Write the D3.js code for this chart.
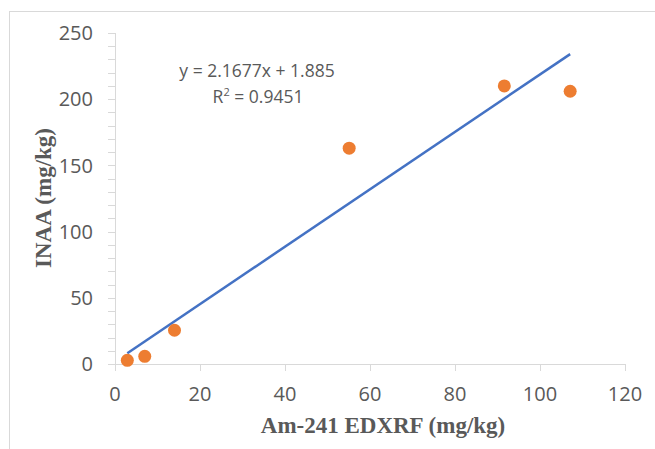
<!DOCTYPE html>
<html>
<head>
<meta charset="utf-8">
<script src="https://cdn.jsdelivr.net/npm/d3@7.9.0/dist/d3.min.js"></script>
<style>
  body { margin: 0; background: #fff; }
  svg { display: block; }
</style>
</head>
<body>
<div id="vis"></div>
<script>
const width = 655, height = 449;

// EDXRF vs INAA values
const edxrf = [2.9, 7.0, 14.0, 55.1, 91.6, 107.1];
const inaa = [2.8, 5.8, 25.5, 163, 210, 206];

// trendline as printed on the chart
const slope = 2.1677, intercept = 1.885;
const eqLabel = "y = 2.1677x + 1.885";
const r2Label = "0.9451";

const xTicks = [0, 20, 40, 60, 80, 100, 120];
const yTicks = [0, 50, 100, 150, 200, 250];
const yMinor = d3.range(0, 251, 10);

const gray = "#595959", axisCol = "#d9d9d9";
const tickFont = "'Open Sans', sans-serif";
const titleFont = "'Liberation Serif', 'Times New Roman', serif";

const svg = d3.select("#vis").append("svg")
    .attr("width", width)
    .attr("height", height);

svg.append("rect")
    .attr("x", 9.5).attr("y", 11.5)
    .attr("width", 700).attr("height", 500)
    .attr("fill", "#fff")
    .attr("stroke", axisCol);

const x = d3.scaleLinear().domain([0, 120]).range([115, 625]);
const y = d3.scaleLinear().domain([0, 250]).range([364, 33]);

// y axis: line, minor ticks every 10, labels every 50
svg.append("line")
    .attr("x1", x(0) + 0.5).attr("x2", x(0) + 0.5)
    .attr("y1", y(250)).attr("y2", y(0))
    .attr("stroke", axisCol);

svg.append("g").selectAll("line")
  .data(yMinor)
  .enter().append("line")
    .attr("x1", x(0) - 7).attr("x2", x(0))
    .attr("y1", d => Math.round(y(d)) + 0.5)
    .attr("y2", d => Math.round(y(d)) + 0.5)
    .attr("stroke", axisCol);

svg.append("g").selectAll("text")
  .data(yTicks)
  .enter().append("text")
    .attr("x", 93)
    .attr("y", d => y(d))
    .attr("dy", "0.36em")
    .attr("text-anchor", "end")
    .attr("fill", gray)
    .style("font-family", tickFont)
    .style("font-size", "20px")
    .text(d => d);

// x axis
svg.append("line")
    .attr("x1", x(0)).attr("x2", x(120))
    .attr("y1", y(0) + 0.5).attr("y2", y(0) + 0.5)
    .attr("stroke", axisCol);

svg.append("g").selectAll("line")
  .data(xTicks)
  .enter().append("line")
    .attr("x1", d => Math.round(x(d)) + 0.5)
    .attr("x2", d => Math.round(x(d)) + 0.5)
    .attr("y1", y(0)).attr("y2", y(0) + 7)
    .attr("stroke", axisCol);

svg.append("g").selectAll("text")
  .data(xTicks)
  .enter().append("text")
    .attr("x", d => x(d))
    .attr("y", 401)
    .attr("text-anchor", "middle")
    .attr("fill", gray)
    .style("font-family", tickFont)
    .style("font-size", "20px")
    .text(d => d);

// trendline over the data's x range
const xExt = d3.extent(edxrf);
svg.append("line")
    .attr("x1", x(xExt[0])).attr("y1", y(slope * xExt[0] + intercept))
    .attr("x2", x(xExt[1])).attr("y2", y(slope * xExt[1] + intercept))
    .attr("stroke", "#4472c4")
    .attr("stroke-width", 2.5);

// points
svg.append("g").selectAll("circle")
  .data(edxrf.map((v, i) => [v, inaa[i]]))
  .enter().append("circle")
    .attr("cx", d => x(d[0]))
    .attr("cy", d => y(d[1]))
    .attr("r", 6.5)
    .attr("fill", "#ed7d31");

// equation label
const eq = svg.append("g")
    .attr("fill", gray)
    .style("font-family", tickFont)
    .style("font-size", "17.5px")
    .attr("text-anchor", "middle");
eq.append("text").attr("x", 257).attr("y", 77).text(eqLabel);
const r2 = eq.append("text").attr("x", 258).attr("y", 103);
r2.append("tspan").text("R");
r2.append("tspan").attr("dy", -7).style("font-size", "11px").text("2");
r2.append("tspan").attr("dy", 7).text(" = " + r2Label);

// axis titles
svg.append("text")
    .attr("x", 383).attr("y", 433)
    .attr("text-anchor", "middle")
    .attr("fill", gray)
    .style("font-family", titleFont)
    .style("font-weight", "bold")
    .style("font-size", "23px")
    .text("Am-241 EDXRF (mg/kg)");

svg.append("text")
    .attr("transform", "translate(51,198) rotate(-90)")
    .attr("text-anchor", "middle")
    .attr("fill", gray)
    .style("font-family", titleFont)
    .style("font-weight", "bold")
    .style("font-size", "23px")
    .text("INAA (mg/kg)");
</script>
</body>
</html>
